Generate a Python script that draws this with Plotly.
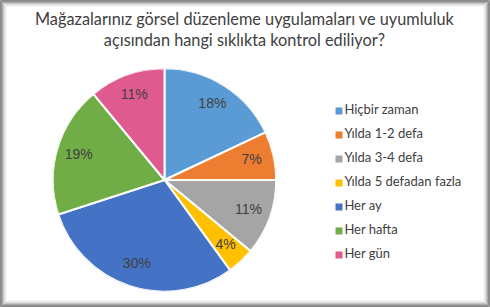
import plotly.graph_objects as go

title_lines = ["Mağazalarınız görsel düzenleme uygulamaları ve uyumluluk",
               "açısından hangi sıklıkta kontrol ediliyor?"]
categories = ["Hiçbir zaman", "Yılda 1-2 defa", "Yılda 3-4 defa",
              "Yılda 5 defadan fazla", "Her ay", "Her hafta", "Her gün"]
values = [18, 7, 11, 4, 30, 19, 11]
colors = ["#5B9BD5", "#ED7D31", "#A5A5A5", "#FFC000", "#4472C4", "#70AD47", "#DF5A8E"]

W, H = 490, 307
dom = dict(x=[52.3 / W, 276.7 / W], y=[15.3 / H, 238.7 / H])
fig = go.Figure()

# slice geometry derived from the values
total = sum(values)
mid_angles, spans, pct_text, cum = [], [], [], 0
for v in values:
    mid_angles.append((cum + v / 2) / total * 360)
    spans.append(v / total * 360)
    pct_text.append(f"{round(v / total * 100)}%")
    cum += v

# slices as full-radius polar bars (a pie)
fig.add_trace(go.Barpolar(
    r=[1] * len(values), theta=mid_angles, width=spans, base=0,
    marker=dict(color=colors, line=dict(color="white", width=2)),
    customdata=categories, hovertemplate="%{customdata}<extra></extra>",
    showlegend=False, subplot="polar",
))
# percentage labels
fig.add_trace(go.Scatterpolar(
    r=[0.8] * len(values), theta=mid_angles, mode="text", text=pct_text,
    textfont=dict(family="Liberation Sans", size=14, color="#404040"),
    showlegend=False, hoverinfo="skip", subplot="polar",
))

# legend built as a scatter on hidden axes
fig.add_trace(go.Scatter(
    x=[0] * len(categories), y=list(range(len(categories))),
    mode="markers+text", text=categories, textposition="middle right",
    marker=dict(symbol="square", size=7, color=colors),
    textfont=dict(family="Lato", size=13, color="#404040"),
    cliponaxis=False, showlegend=False, hoverinfo="skip",
))

fig.update_layout(
    width=W, height=H, margin=dict(l=0, r=0, t=0, b=0, pad=0),
    paper_bgcolor="white", plot_bgcolor="rgba(0,0,0,0)",
    polar=dict(domain=dom, bgcolor="rgba(0,0,0,0)", bargap=0,
               radialaxis=dict(range=[0, 1], visible=False),
               angularaxis=dict(direction="clockwise", rotation=90, visible=False)),
    xaxis=dict(domain=[339 / W, 1], range=[0, 1], visible=False, fixedrange=True),
    yaxis=dict(domain=[1 - 267 / H, 1 - 99 / H], range=[6.5, -0.5], visible=False, fixedrange=True),
    annotations=[dict(text="<br>".join(title_lines), x=0.5, y=1 - 7 / H, xref="paper", yref="paper",
                      xanchor="center", yanchor="top", showarrow=False, align="center",
                      font=dict(family="Lato", size=16.3, color="#404040"))],
)

# frame
frame = [(0, "#8a8a8a"), (1, "#8f8f8f"), (2, "#a9a9a9"), (3, "#c6c6c6"),
         (4, "#dcdcdc"), (5, "#ebebeb"), (6, "#f6f6f6")]
shapes = []
for i, c in frame:
    shapes.append(dict(type="rect", xref="paper", yref="paper",
                       x0=(i + 0.5) / W, x1=1 - (i + 0.5) / W,
                       y0=(i + 0.5) / H, y1=1 - (i + 0.5) / H,
                       line=dict(color=c, width=1), layer="above"))
fig.update_layout(shapes=shapes)

fig.write_html("out.html")
